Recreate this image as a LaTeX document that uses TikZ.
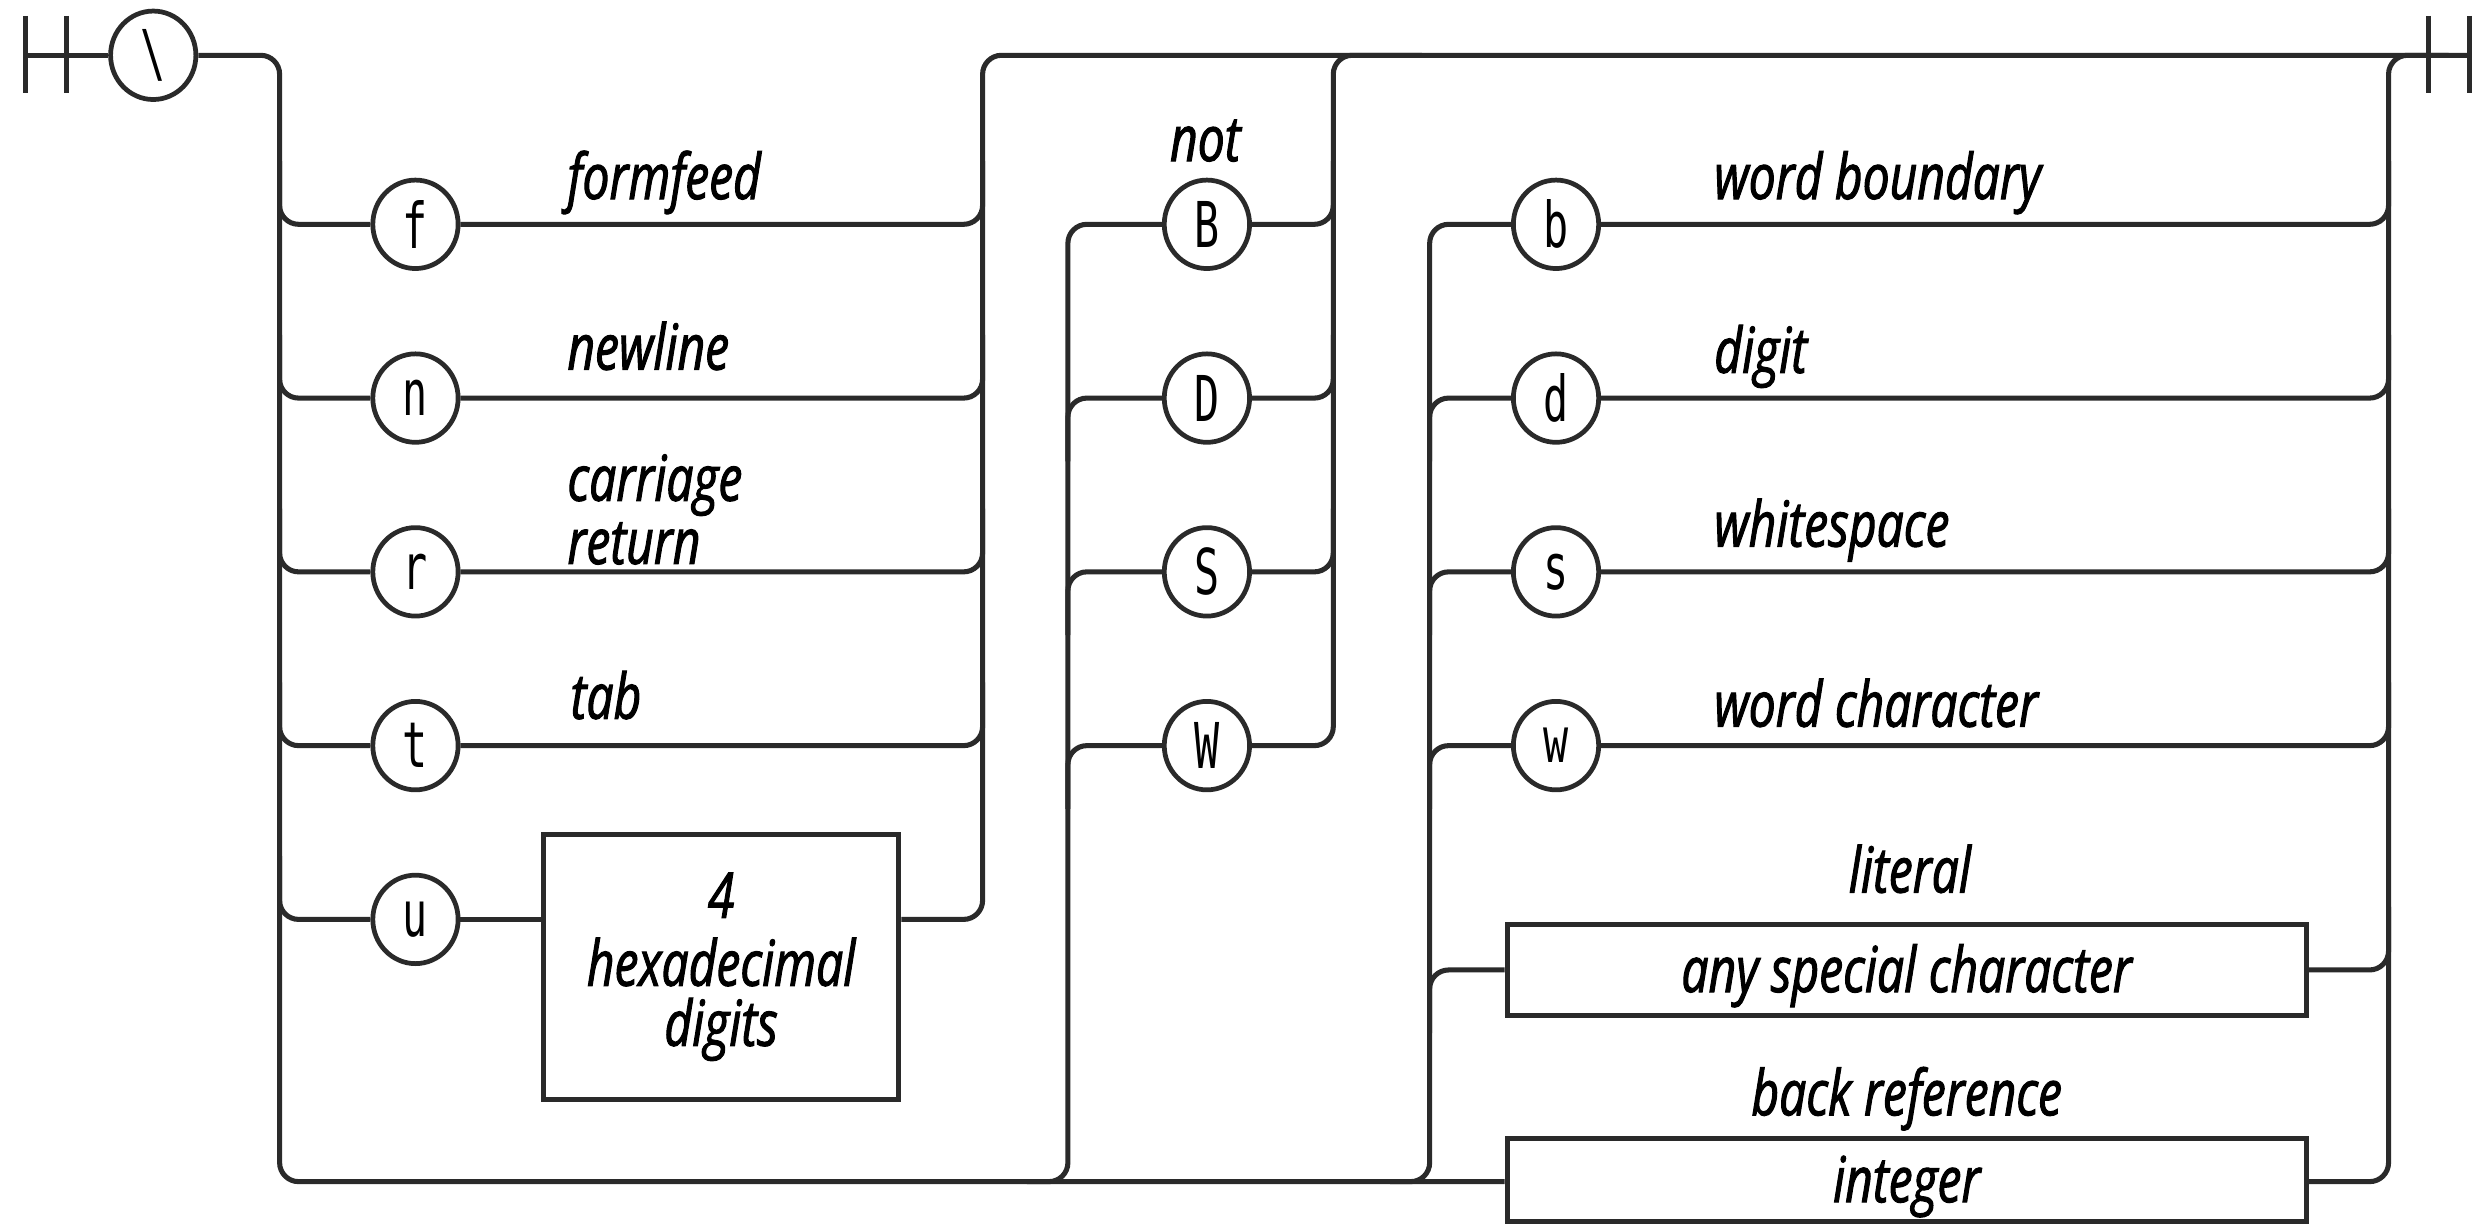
\documentclass[tikz,border=0pt]{standalone}
\usepackage{fontspec}
\usetikzlibrary{shapes.geometric}
\newfontfamily\labfont[UprightFont={* Italic}, FakeStretch=0.76, FakeBold=1.6]{Open Sans}
\newfontfamily\chrfont[FakeStretch=0.66]{DejaVu Sans Mono}
\definecolor{lc}{HTML}{2A2A2A}
\tikzset{
  rr/.style={draw=lc, line width=3.2pt, rounded corners=12pt},
  bar/.style={draw=lc, line width=3.2pt},
  chr/.style={ellipse, draw=lc, line width=3pt, minimum width=54pt, minimum height=56pt, inner sep=0pt, font=\chrfont\fontsize{40}{40}\selectfont},
  lab/.style={font=\labfont\fontsize{40}{44}\selectfont, inner sep=0pt, anchor=base west},
  clab/.style={lab, anchor=base},
  boxn/.style={draw=lc, line width=3.2pt, inner sep=0pt, fill=white}
}
\begin{document}
\begin{tikzpicture}[x=1pt,y=-1pt]
\fill[white] (0,0) rectangle (1568,775);
\useasboundingbox (0,0) rectangle (1568,775);
% start / end
\coordinate (s1) at (16,35);
\coordinate (e2) at (1563,35);
\draw[bar] (16,10) -- (16,59);
\draw[bar] (42,10) -- (42,59);
\draw[bar] (1537,10) -- (1537,59);
\draw[bar] (1563,10) -- (1563,59);
\node[chr] (bs) at (97,35) {\textbackslash};
\draw[rr] (s1) -- (bs.west);
% left block nodes
\node[chr] (f) at (263,142) {f};
\node[chr] (n) at (263,252) {n};
\node[chr] (r) at (263,362) {r};
\node[chr] (t) at (263,472) {t};
\node[chr] (u) at (263,582) {u};
\node[boxn, minimum width=225pt, minimum height=168pt] (hex) at (456.5,612) {};
% middle block
\node[chr] (B) at (764,142) {B};
\node[chr] (D) at (764,252) {D};
\node[chr] (S) at (764,362) {S};
\node[chr] (W) at (764,472) {W};
% right block
\node[chr] (b) at (985,142) {b};
\node[chr] (d) at (985,252) {d};
\node[chr] (s) at (985,362) {s};
\node[chr] (w) at (985,472) {w};
\node[boxn, minimum width=506pt, minimum height=58pt] (lit) at (1207,614) {};
\node[boxn, minimum width=506pt, minimum height=53pt] (int) at (1207,747) {};
% main left rail and bottom line
\draw[rr] (bs.east) -- (177,35) -- (177,748) -- (int.west |- 0,748);
% left block branches
\foreach \c/\y in {f/142,n/252,r/362,t/472}{
  \draw[rr] (177,\y-40) -- (177,\y) -- (\c.west);
  \draw[rr] (\c.east) -- (622,\y) -- (622,\y-40);
}
\draw[rr] (177,542) -- (177,582) -- (u.west);
\draw[rr] (u.east) -- (u.east -| hex.west);
\draw[rr] (hex.east |- u.east) -- (622,582) -- (622,35) -- (e2);
% middle block
\draw[rr] (650,748) -- (676,748) -- (676,142) -- (B.west);
\foreach \c/\y in {D/252,S/362,W/472}{
  \draw[rr] (676,\y+40) -- (676,\y) -- (\c.west);
}
\foreach \c/\y in {B/142,D/252,S/362}{
  \draw[rr] (\c.east) -- (844,\y) -- (844,\y-40);
}
\draw[rr] (W.east) -- (844,472) -- (844,35) -- (900,35);
% right block
\draw[rr] (880,748) -- (905,748) -- (905,142) -- (b.west);
\foreach \c/\y in {d/252,s/362,w/472}{
  \draw[rr] (905,\y+40) -- (905,\y) -- (\c.west);
}
\draw[rr] (905,654) -- (905,614) -- (lit.west);
\foreach \c/\y in {b/142,d/252,s/362,w/472}{
  \draw[rr] (\c.east) -- (1512,\y) -- (1512,\y-40);
}
\draw[rr] (lit.east) -- (1512,614) -- (1512,574);
\draw[rr] (int.east |- 0,748) -- (1512,748) -- (1512,35) -- (1550,35);
% labels
\node[lab] (lf) at (359,126) {formfeed};
\node[lab] (ln) at (359,234) {newline};
\node[lab] (lc1) at (359,317) {carriage};
\node[lab] (lc2) at (359,357) {return};
\node[lab] (lt) at (361,455) {tab};
\node[clab] (h1) at (456.5,581) {4};
\node[clab] (h2) at (456.5,624) {hexadecimal};
\node[clab] (h3) at (456.5,662) {digits};
\node[clab] (lnot) at (763,102) {not};
\node[lab] (lb) at (1085,126) {word boundary};
\node[lab] (ld) at (1085,236) {digit};
\node[lab] (ls) at (1085,346) {whitespace};
\node[lab] (lw) at (1085,460) {word character};
\node[clab] (llit) at (1209,565) {literal};
\node[clab] (lany) at (1207,628) {any special character};
\node[clab] (lback) at (1207,706) {back reference};
\node[clab] (lint) at (1207,761) {integer};
\end{tikzpicture}
\end{document}
